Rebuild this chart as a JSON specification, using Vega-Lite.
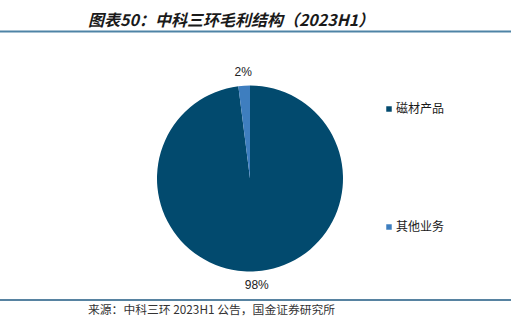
{
  "$schema": "https://vega.github.io/schema/vega-lite/v6.json",
  "autosize": "none",
  "width": 500,
  "height": 239,
  "padding": {"left": 0, "top": 59, "right": 11, "bottom": 19},
  "background": "white",
  "title": {
    "text": "图表50：中科三环毛利结构（2023H1）",
    "anchor": "start",
    "orient": "top",
    "frame": "group",
    "font": "Noto Sans CJK SC",
    "fontSize": 16,
    "fontWeight": "bold",
    "fontStyle": "italic",
    "color": "#1a1a1a",
    "baseline": "alphabetic",
    "dx": 88,
    "offset": -11.5
  },
  "data": {
    "values": [
      {"category": "磁材产品", "share": 98, "label": "98%", "rank": 1},
      {"category": "其他业务", "share": 2, "label": "2%", "rank": 2}
    ]
  },
  "layer": [
    {
      "mark": {"type": "arc", "outerRadius": 93},
      "encoding": {
        "theta": {"field": "share", "type": "quantitative", "stack": true},
        "order": {"field": "rank", "type": "quantitative"},
        "color": {
          "field": "category",
          "type": "nominal",
          "sort": ["磁材产品", "其他业务"],
          "scale": {"domain": ["磁材产品", "其他业务"], "range": ["#024A6E", "#3E7EBF"]},
          "legend": {
            "title": null,
            "orient": "none",
            "legendX": 383,
            "legendY": 44,
            "direction": "vertical",
            "symbolType": "square",
            "symbolSize": 30,
            "symbolStrokeWidth": 0,
            "labelFont": "Noto Sans CJK SC",
            "labelFontSize": 12,
            "labelColor": "#1a1a1a",
            "labelOffset": 1,
            "rowPadding": 106,
            "padding": 0
          }
        }
      }
    },
    {
      "mark": {"type": "text", "radius": 107, "font": "Liberation Sans", "fontSize": 12, "color": "#222222", "baseline": "middle", "align": "center"},
      "encoding": {
        "theta": {"field": "share", "type": "quantitative", "stack": true},
        "order": {"field": "rank", "type": "quantitative"},
        "detail": {"field": "category", "type": "nominal"},
        "text": {"field": "label", "type": "nominal"}
      }
    },
    {
      "data": {"values": [{}]},
      "mark": {"type": "rule", "color": "#4F84A6", "strokeWidth": 2},
      "encoding": {"x": {"value": 0}, "x2": {"value": 511}, "y": {"value": -27.5}}
    },
    {
      "data": {"values": [{}]},
      "mark": {"type": "rule", "color": "#1F5A82", "strokeWidth": 1.5},
      "encoding": {"x": {"value": 0}, "x2": {"value": 511}, "y": {"value": 241}}
    },
    {
      "data": {"values": [{}]},
      "mark": {"type": "text", "font": "Noto Sans CJK SC", "fontSize": 11.8, "color": "#333333", "align": "left", "baseline": "middle", "text": "来源：中科三环 2023H1 公告，国金证券研究所"},
      "encoding": {"x": {"value": 88}, "y": {"value": 251}}
    }
  ],
  "config": {"view": {"stroke": null}}
}
